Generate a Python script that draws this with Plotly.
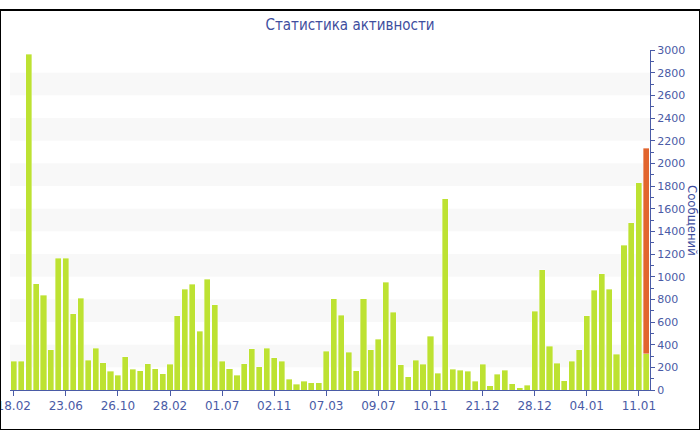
import plotly.graph_objects as go

values = [253, 253, 2962, 938, 835, 356, 1162, 1162, 673, 809,
          262, 368, 241, 165, 132, 294, 185, 168, 232, 188,
          144, 226, 653, 888, 935, 518, 977, 753, 253, 188,
          132, 232, 365, 203, 368, 285, 253, 94, 50, 79,
          65, 62, 341, 803, 659, 335, 168, 806, 356, 450,
          950, 685, 224, 115, 262, 226, 476, 147, 1688, 182,
          173, 165, 79, 226, 38, 141, 173, 56, 21, 44,
          694, 1059, 385, 235, 82, 253, 353, 656, 880, 1024,
          888, 315, 1277, 1474, 1827, 318]
extra = [None] * 85 + [1815]
tick_pos = [0, 7, 14, 21, 28, 35, 42, 49, 56, 63, 70, 77, 84]
tick_labels = ["18.02", "23.06", "26.10", "28.02", "01.07", "02.11", "07.03",
               "09.07", "10.11", "21.12", "28.12", "04.01", "11.01"]

x = list(range(len(values)))
AX = "#4A5BA6"
TITLE = "#3E4E9E"

fig = go.Figure()
fig.add_bar(x=x, y=values, marker=dict(color="#BDE232", line=dict(width=0.6, color="rgba(255,255,255,0.6)")),
            hoverinfo="y")
fig.add_bar(x=x, y=extra, marker=dict(color="#E2652E", line=dict(width=0.6, color="rgba(255,255,255,0.6)")),
            hoverinfo="y")

shapes = []
for lo in range(200, 3000, 400):
    shapes.append(dict(type="rect", xref="paper", yref="y", x0=0, x1=1, y0=lo, y1=lo + 200,
                       fillcolor="#F8F8F8", line=dict(width=0), layer="below"))
W, H, L, R, T, B = 700, 430, 10, 50, 50, 40
pw, ph = W - L - R, H - T - B
shapes.append(dict(type="rect", xref="paper", yref="paper",
                   x0=(0 - L) / pw, x1=(W - L) / pw, y0=(H - T) / ph, y1=-B / ph,
                   line=dict(color="black", width=2), fillcolor="rgba(0,0,0,0)", layer="above"))

fig.update_layout(
    width=W, height=H,
    margin=dict(l=L, r=R, t=T, b=B, autoexpand=False),
    paper_bgcolor="white", plot_bgcolor="white",
    barmode="stack", bargap=0.18, showlegend=False,
    title=dict(text="Статистика активности", x=0.5, xanchor="center", y=1 - 25 / H, yanchor="middle",
               font=dict(family="DejaVu Sans Condensed, DejaVu Sans", size=15, color=TITLE)),
    font=dict(family="DejaVu Sans", size=11, color=AX),
    shapes=shapes,
    xaxis=dict(range=[-0.5, 85.5], tickmode="array", tickvals=tick_pos, ticktext=tick_labels,
               showgrid=False, zeroline=False, showline=True, linecolor=AX, linewidth=1,
               ticks="outside", ticklen=5, tickcolor=AX, tickfont=dict(size=12, color=AX),
               ticklabeloverflow="allow", automargin=False),
    yaxis=dict(range=[0, 3000], side="right", dtick=200, showgrid=False, zeroline=False,
               showline=True, linecolor=AX, linewidth=1, ticks="outside", ticklen=4, tickcolor=AX,
               tickfont=dict(size=11, color=AX), ticklabeloverflow="allow", automargin=False,
               minor=dict(ticks="outside", ticklen=3, dtick=100, tickcolor=AX)),
    annotations=[dict(text="Сообщений", xref="paper", yref="paper", x=(693 - L) / pw, y=0.5,
                      textangle=90, showarrow=False, xanchor="center", yanchor="middle",
                      font=dict(family="DejaVu Sans Condensed, DejaVu Sans", size=13, color=TITLE))],
)

fig.write_html("out.html", config={"displayModeBar": False},
               post_script="document.body.style.margin='0';document.body.style.padding='0';")
